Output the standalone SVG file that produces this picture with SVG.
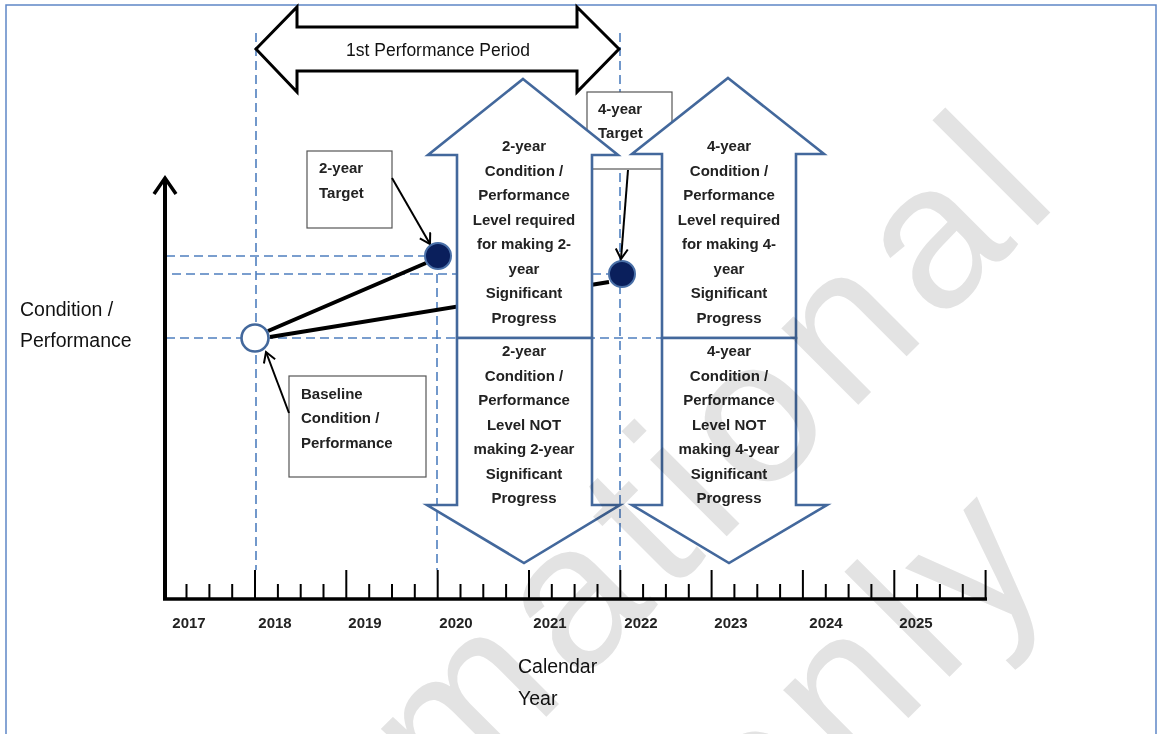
<svg xmlns="http://www.w3.org/2000/svg" width="1160" height="734" viewBox="0 0 1160 734">
<defs>
<style>
.frame{fill:none;stroke:#5f87c6;stroke-width:1.5}
.dash{fill:none;stroke:#4f7fbf;stroke-width:1.6;stroke-dasharray:9 5}
.blue{fill:#fff;stroke:#43689c;stroke-width:2.6;stroke-linejoin:miter}
.box{fill:#fff;stroke:#555;stroke-width:1.2}
.blk{fill:none;stroke:#000}
.t{font-family:"Liberation Sans",Arial,sans-serif;font-size:15px;font-weight:bold;fill:#222}
.c{text-anchor:middle}
.big{font-family:"Liberation Sans",Arial,sans-serif;font-size:19.5px;fill:#111}
.dot{fill:#0a1f5c;stroke:#4a70a8;stroke-width:2}
</style>
<marker id="ah" markerWidth="14" markerHeight="14" refX="11" refY="7" orient="auto" markerUnits="userSpaceOnUse">
<path d="M1,1 L11,7 L1,13" fill="none" stroke="#000" stroke-width="2"/>
</marker>
</defs>
<rect width="1160" height="734" fill="#fff"/>
<path class="frame" d="M6,734 V5 H1156 V734"/>

<g id="connectors">
<path class="dash" d="M256,33 V570 M620,33 V570 M437,274 V570"/>
<path class="dash" d="M166,256 H425 M172,274 H608 M166,338 H661"/>
<path class="blk" stroke-width="4" d="M268,331 L426,263 M270,337 L609,282"/>
</g>

<g id="target4">
<rect class="box" x="587" y="92" width="85" height="77"/>
<text class="t" x="598" y="114">4-year</text>
<text class="t" x="598" y="138">Target</text>
</g>

<g id="period">
<polygon points="256,49 297,7 297,27 577,27 577,7 619,49 577,92 577,71 297,71 297,92" fill="#fff" stroke="#000" stroke-width="3"/>
<text class="big c" x="438" y="56" style="font-size:17.5px">1st Performance Period</text>
</g>

<g id="up2">
<path class="blue" d="M523,79 L618,155 L592,155 L592,338 L457,338 L457,155 L428,155 Z"/>
<text class="t c"><tspan x="524" y="151">2-year</tspan><tspan x="524" y="175.5">Condition /</tspan><tspan x="524" y="200">Performance</tspan><tspan x="524" y="224.5">Level required</tspan><tspan x="524" y="249">for making 2-</tspan><tspan x="524" y="273.5">year</tspan><tspan x="524" y="298">Significant</tspan><tspan x="524" y="322.5">Progress</tspan></text>
</g>
<g id="down2">
<path class="blue" d="M457,338 L592,338 L592,505 L620,505 L524,563 L427,505 L457,505 Z"/>
<text class="t c"><tspan x="524" y="356">2-year</tspan><tspan x="524" y="380.5">Condition /</tspan><tspan x="524" y="405">Performance</tspan><tspan x="524" y="429.5">Level NOT</tspan><tspan x="524" y="454">making 2-year</tspan><tspan x="524" y="478.5">Significant</tspan><tspan x="524" y="503">Progress</tspan></text>
</g>
<g id="up4">
<path class="blue" d="M728,78 L824,154 L796,154 L796,338 L662,338 L662,154 L632,154 Z"/>
<text class="t c"><tspan x="729" y="151">4-year</tspan><tspan x="729" y="175.5">Condition /</tspan><tspan x="729" y="200">Performance</tspan><tspan x="729" y="224.5">Level required</tspan><tspan x="729" y="249">for making 4-</tspan><tspan x="729" y="273.5">year</tspan><tspan x="729" y="298">Significant</tspan><tspan x="729" y="322.5">Progress</tspan></text>
</g>
<g id="down4">
<path class="blue" d="M662,338 L796,338 L796,505 L827,505 L729,563 L632,505 L662,505 Z"/>
<text class="t c"><tspan x="729" y="356">4-year</tspan><tspan x="729" y="380.5">Condition /</tspan><tspan x="729" y="405">Performance</tspan><tspan x="729" y="429.5">Level NOT</tspan><tspan x="729" y="454">making 4-year</tspan><tspan x="729" y="478.5">Significant</tspan><tspan x="729" y="503">Progress</tspan></text>
</g>

<g id="target2">
<rect class="box" x="307" y="151" width="85" height="77"/>
<text class="t" x="319" y="173">2-year</text>
<text class="t" x="319" y="198">Target</text>
<path class="blk" stroke-width="2" d="M392,178 L430,244" marker-end="url(#ah)"/>
</g>

<g id="baseline">
<rect class="box" x="289" y="376" width="137" height="101"/>
<text class="t" x="301" y="399">Baseline</text>
<text class="t" x="301" y="423">Condition /</text>
<text class="t" x="301" y="448">Performance</text>
<path class="blk" stroke-width="2" d="M289,413 L266,352" marker-end="url(#ah)"/>
</g>

<g id="points">
<circle cx="255" cy="338" r="13.5" fill="#fff" stroke="#43689c" stroke-width="2.6"/>
<circle class="dot" cx="438" cy="256" r="13"/>
<circle class="dot" cx="622" cy="274" r="13"/>
<path class="blk" stroke-width="2" d="M628,170 L621,259" marker-end="url(#ah)"/>
</g>

<g id="axes">
<path class="blk" stroke-width="4" d="M165,600 V179"/>
<polyline class="blk" stroke-width="3.5" points="154,194 165,178 176,194"/>
<path class="blk" stroke-width="3.5" d="M163,599 H987"/>
<path class="blk" stroke-width="2" d="M186.5,599V584 M209.4,599V584 M232.2,599V584 M255,599V570 M277.9,599V584 M300.7,599V584 M323.5,599V584 M346.3,599V570 M369.2,599V584 M392,599V584 M414.8,599V584 M437.7,599V570 M460.5,599V584 M483.3,599V584 M506.1,599V584 M529,599V570 M551.8,599V584 M574.6,599V584 M597.5,599V584 M620.3,599V570 M643.1,599V584 M665.9,599V584 M688.8,599V584 M711.6,599V570 M734.4,599V584 M757.3,599V584 M780.1,599V584 M802.9,599V570 M825.8,599V584 M848.6,599V584 M871.4,599V584 M894.3,599V570 M917.1,599V584 M939.9,599V584 M962.8,599V584 M985.6,599V570"/>
<g class="t c">
<text x="189" y="628">2017</text>
<text x="275" y="628">2018</text>
<text x="365" y="628">2019</text>
<text x="456" y="628">2020</text>
<text x="550" y="628">2021</text>
<text x="641" y="628">2022</text>
<text x="731" y="628">2023</text>
<text x="826" y="628">2024</text>
<text x="916" y="628">2025</text>
</g>
<text class="big" x="20" y="316">Condition /</text>
<text class="big" x="20" y="347">Performance</text>
<text class="big" x="518" y="673">Calendar</text>
<text class="big" x="518" y="705">Year</text>
</g>

<g id="watermark" transform="rotate(-45)" style="mix-blend-mode:multiply" fill="#e3e3e3" font-family="Liberation Sans, Arial, sans-serif" font-size="205" letter-spacing="13">
<text x="-735" y="893">Informational</text>
<text x="-75" y="1150">only</text>
</g>
</svg>
